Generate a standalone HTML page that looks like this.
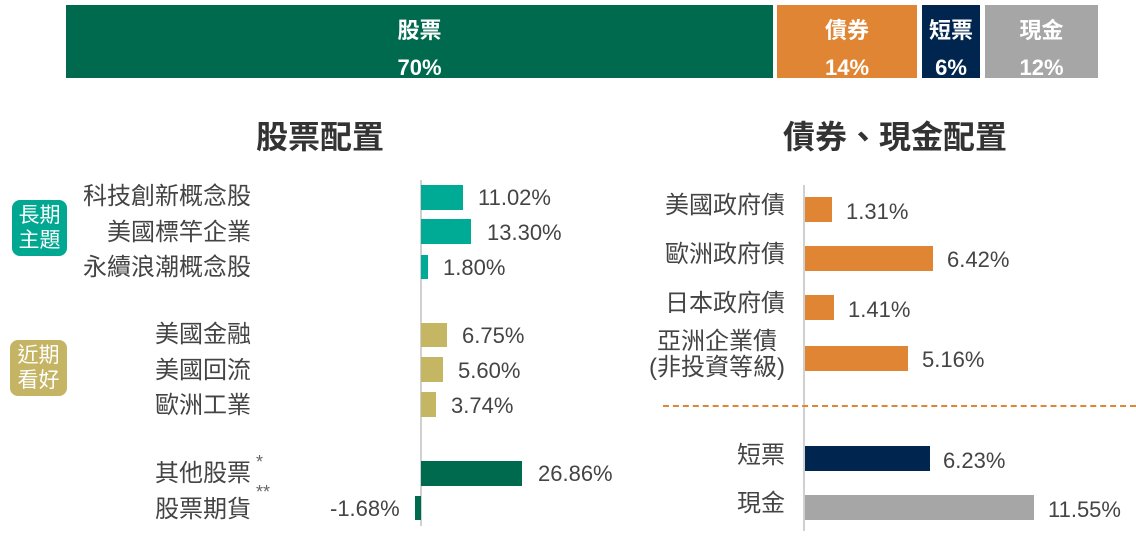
<!DOCTYPE html>
<html><head><meta charset="utf-8"><style>
body{margin:0;width:1136px;height:545px;background:#fff;position:relative;overflow:hidden;font-family:"Liberation Sans","Noto Sans CJK TC",sans-serif;color:#444}
.a{position:absolute}
.seg{position:absolute;top:5px;height:73px;color:#fff;font-weight:bold;font-size:22px;text-align:center;line-height:37px;padding-top:7px;box-sizing:border-box;overflow:hidden}
.lab{position:absolute;font-size:24px;text-align:right;line-height:26px;white-space:nowrap}
.val{position:absolute;font-size:22px;line-height:26px;white-space:nowrap}
.bar{position:absolute}
.badge{position:absolute;color:#fff;font-size:21px;line-height:25px;text-align:center;border-radius:8px;padding-top:3px;box-sizing:border-box}
</style></head><body>
<div class="seg" style="left:66px;width:707px;background:#006a4e">股票<br>70%</div>
<div class="seg" style="left:777px;width:140px;background:#e08533">債券<br>14%</div>
<div class="seg" style="left:922px;width:58px;background:#00264f">短票<br>6%</div>
<div class="seg" style="left:985px;width:113px;background:#a6a6a6">現金<br>12%</div>

<div class="a" style="left:200px;width:240px;top:112px;text-align:center;font-size:32px;font-weight:bold;color:#333">股票配置</div>
<div class="a" style="left:740px;width:310px;top:112px;text-align:center;font-size:32px;font-weight:bold;color:#333">債券、現金配置</div>

<div class="badge" style="left:12px;top:200px;width:55px;height:56px;background:#00a891">長期<br>主題</div>
<div class="badge" style="left:10px;top:340px;width:57px;height:56px;background:#c4b463">近期<br>看好</div>

<div class="a" style="left:420px;top:180px;width:2px;height:346px;background:#d0d0d0"></div>
<div class="lab" style="right:885px;top:184px">科技創新概念股</div>
<div class="lab" style="right:885px;top:220px">美國標竿企業</div>
<div class="lab" style="right:885px;top:255px">永續浪潮概念股</div>
<div class="lab" style="right:885px;top:322px">美國金融</div>
<div class="lab" style="right:885px;top:358px">美國回流</div>
<div class="lab" style="right:885px;top:393px">歐洲工業</div>
<div class="lab" style="right:885px;top:461px">其他股票</div>
<div class="lab" style="right:885px;top:497px">股票期貨</div>
<div class="a" style="left:256px;top:452px;font-size:18px;color:#666">*</div>
<div class="a" style="left:256px;top:482px;font-size:18px;color:#666">**</div>

<div class="bar" style="left:421px;top:185px;width:42px;height:25px;background:#00ab96"></div>
<div class="val" style="left:478px;top:185px">11.02%</div>
<div class="bar" style="left:421px;top:219px;width:50px;height:25px;background:#00ab96"></div>
<div class="val" style="left:487px;top:220px">13.30%</div>
<div class="bar" style="left:421px;top:255px;width:7px;height:24px;background:#00ab96"></div>
<div class="val" style="left:443px;top:255px">1.80%</div>
<div class="bar" style="left:421px;top:323px;width:26px;height:24px;background:#c5b663"></div>
<div class="val" style="left:462px;top:323px">6.75%</div>
<div class="bar" style="left:421px;top:357px;width:22px;height:25px;background:#c5b663"></div>
<div class="val" style="left:458px;top:358px">5.60%</div>
<div class="bar" style="left:421px;top:392px;width:15px;height:25px;background:#c5b663"></div>
<div class="val" style="left:451px;top:393px">3.74%</div>
<div class="bar" style="left:421px;top:461px;width:101px;height:25px;background:#006a4e"></div>
<div class="val" style="left:538px;top:461px">26.86%</div>
<div class="bar" style="left:415px;top:496px;width:6px;height:24px;background:#006a4e"></div>
<div class="val" style="left:330px;top:496px">-1.68%</div>

<div class="a" style="left:803px;top:185px;width:2px;height:346px;background:#d0d0d0"></div>
<div class="lab" style="right:351px;top:193px">美國政府債</div>
<div class="lab" style="right:351px;top:242px">歐洲政府債</div>
<div class="lab" style="right:351px;top:291px">日本政府債</div>
<div class="lab" style="right:351px;top:329px;text-align:center;line-height:26px">亞洲企業債<br>(非投資等級)</div>
<div class="lab" style="right:351px;top:443px">短票</div>
<div class="lab" style="right:351px;top:491px">現金</div>

<div class="bar" style="left:805px;top:197px;width:27px;height:25px;background:#e08533"></div>
<div class="val" style="left:846px;top:199px">1.31%</div>
<div class="bar" style="left:805px;top:246px;width:128px;height:25px;background:#e08533"></div>
<div class="val" style="left:947px;top:247px">6.42%</div>
<div class="bar" style="left:805px;top:295px;width:29px;height:25px;background:#e08533"></div>
<div class="val" style="left:848px;top:297px">1.41%</div>
<div class="bar" style="left:805px;top:346px;width:103px;height:25px;background:#e08533"></div>
<div class="val" style="left:922px;top:347px">5.16%</div>
<div class="a" style="left:663px;top:405px;width:473px;border-top:2px dashed #e08533"></div>
<div class="bar" style="left:805px;top:446px;width:125px;height:25px;background:#00264f"></div>
<div class="val" style="left:943px;top:448px">6.23%</div>
<div class="bar" style="left:805px;top:495px;width:229px;height:25px;background:#a6a6a6"></div>
<div class="val" style="left:1048px;top:497px">11.55%</div>
</body></html>
